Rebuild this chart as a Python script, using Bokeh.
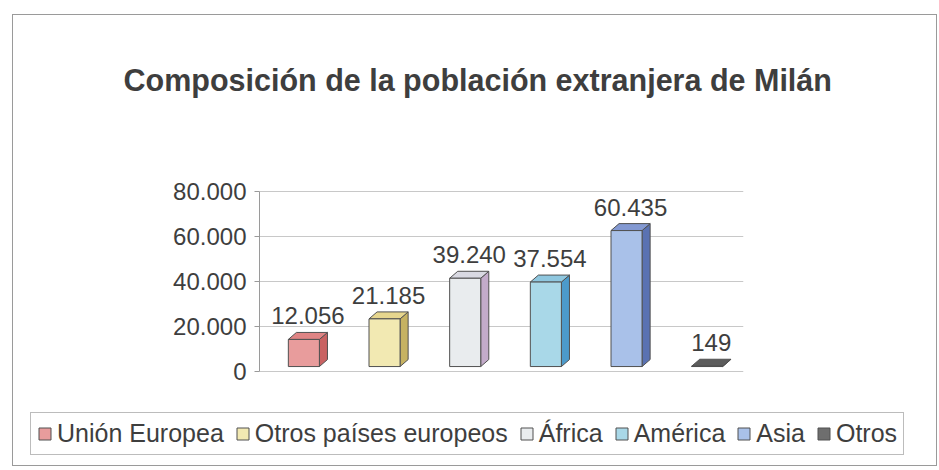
from bokeh.plotting import figure
from bokeh.models import FixedTicker, Legend, LegendItem
from bokeh.core.properties import value
from bokeh.embed import file_html
from bokeh.resources import INLINE

# ---- data ----
categories = ["Unión Europea", "Otros países europeos", "África", "América", "Asia", "Otros"]
population = [12056, 21185, 39240, 37554, 60435, 149]
value_labels = ["12.056", "21.185", "39.240", "37.554", "60.435", "149"]
tick_values = [0, 20000, 40000, 60000, 80000]
tick_labels = ["0", "20.000", "40.000", "60.000", "80.000"]
title_text = "Composición de la población extranjera de Milán"

# ---- styles ----
front_colors = ["#e89c9c", "#f2e9b2", "#e9ecee", "#a9d8e8", "#a9c1e9", "#6e6e6e"]
top_colors = ["#df8484", "#e6d68e", "#d9d9e2", "#8fc7df", "#8399d2", "#5c5c5c"]
side_colors = ["#c96262", "#c6b262", "#c3abca", "#4c9aca", "#5a72b2", "#4a4a4a"]
FONT = "Liberation Sans"
TEXT = "#3e3e3e"
BORDER = "1px solid #9a9a9a"
W_BAR = 0.385     # front face width (category units)
DX = 0.10         # 3D depth, horizontal (category units)
DY = 3100         # 3D depth, vertical (value units)
SHIFT = 0.05
FLOOR = 2200

p = figure(width=925, height=386, x_range=(-0.5, 5.5), y_range=(-4000, 104444),
           output_backend="svg", toolbar_location=None,
           min_border_left=246, min_border_right=195,
           min_border_top=121, min_border_bottom=21,
           background_fill_color="white", border_fill_color="white",
           outline_line_color=None, margin=(14, 0, 0, 12),
           styles={"border-top": BORDER, "border-left": BORDER, "border-right": BORDER})

xc = [i + SHIFT for i in range(len(categories))]
left = [x - W_BAR / 2 for x in xc]
right = [x + W_BAR / 2 for x in xc]
bottom = [FLOOR for _ in xc]
top = [FLOOR + v for v in population]

side_xs = [[r, r + DX, r + DX, r] for r in right]
side_ys = [[b, b + DY, t + DY, t] for b, t in zip(bottom, top)]
top_xs = [[l, r, r + DX, l + DX] for l, r in zip(left, right)]
top_ys = [[t, t, t + DY, t + DY] for t in top]

p.patches(side_xs, side_ys, fill_color=side_colors, line_color="#505050", line_width=1)
p.patches(top_xs, top_ys, fill_color=top_colors, line_color="#505050", line_width=1)
front = p.quad(left=left, right=right, bottom=bottom, top=top,
               fill_color=front_colors, line_color="#505050", line_width=1)

p.text(x=[x + DX / 2 for x in xc], y=[t + DY for t in top], text=value_labels,
       text_align="center", text_baseline="bottom", y_offset=-8,
       text_font=value(FONT), text_font_size="24px", text_color=TEXT)

# axes
p.xaxis.visible = False
p.xgrid.visible = False
p.yaxis.ticker = FixedTicker(ticks=tick_values)
p.yaxis.bounds = (0, 80000)
p.yaxis.major_label_overrides = {t: l for t, l in zip(tick_values, tick_labels)}
p.yaxis.major_label_text_font = FONT
p.yaxis.major_label_text_font_size = "24px"
p.yaxis.major_label_text_color = TEXT
p.yaxis.axis_line_color = "#9a9a9a"
p.yaxis.major_tick_line_color = "#9a9a9a"
p.yaxis.major_tick_out = 5
p.yaxis.major_tick_in = 0
p.yaxis.minor_tick_line_color = None
p.yaxis.major_label_standoff = 8
p.ygrid.ticker = FixedTicker(ticks=tick_values)
p.ygrid.grid_line_color = "#c8c8c8"

# title
p.title.text = title_text
p.title.align = "left"
p.title.offset = -136
p.title.standoff = 80
p.title.text_font = FONT
p.title.text_font_size = "30.5px"
p.title.text_font_style = "bold"
p.title.text_color = TEXT

# legend strip (separate root, same colours)
q = figure(width=925, height=66, x_range=(0, 1), y_range=(0, 1),
           x_axis_type=None, y_axis_type=None, output_backend="svg",
           toolbar_location=None, min_border=0, outline_line_color=None,
           background_fill_color="white", border_fill_color="white",
           margin=(0, 0, 0, 12),
           styles={"border-bottom": BORDER, "border-left": BORDER, "border-right": BORDER})
q.grid.visible = False
# swatch renderer kept outside the visible range; only used for legend glyphs
swatch = q.quad(left=[5 + i for i in range(len(categories))],
                right=[5.5 + i for i in range(len(categories))],
                bottom=[5] * len(categories), top=[6] * len(categories),
                fill_color=front_colors, line_color="#505050")
items = [LegendItem(label=c, renderers=[swatch], index=i) for i, c in enumerate(categories)]
legend = Legend(items=items, orientation="horizontal", location=(17, 11),
                glyph_width=15, glyph_height=15, label_standoff=5, spacing=11,
                padding=6, margin=0, label_text_font=FONT, label_text_font_size="25px",
                label_text_color=TEXT, border_line_color="#7a7a7a",
                background_fill_color="white", background_fill_alpha=1.0)
q.add_layout(legend, "center")

open("out.html", "w").write(file_html([p, q], INLINE))
